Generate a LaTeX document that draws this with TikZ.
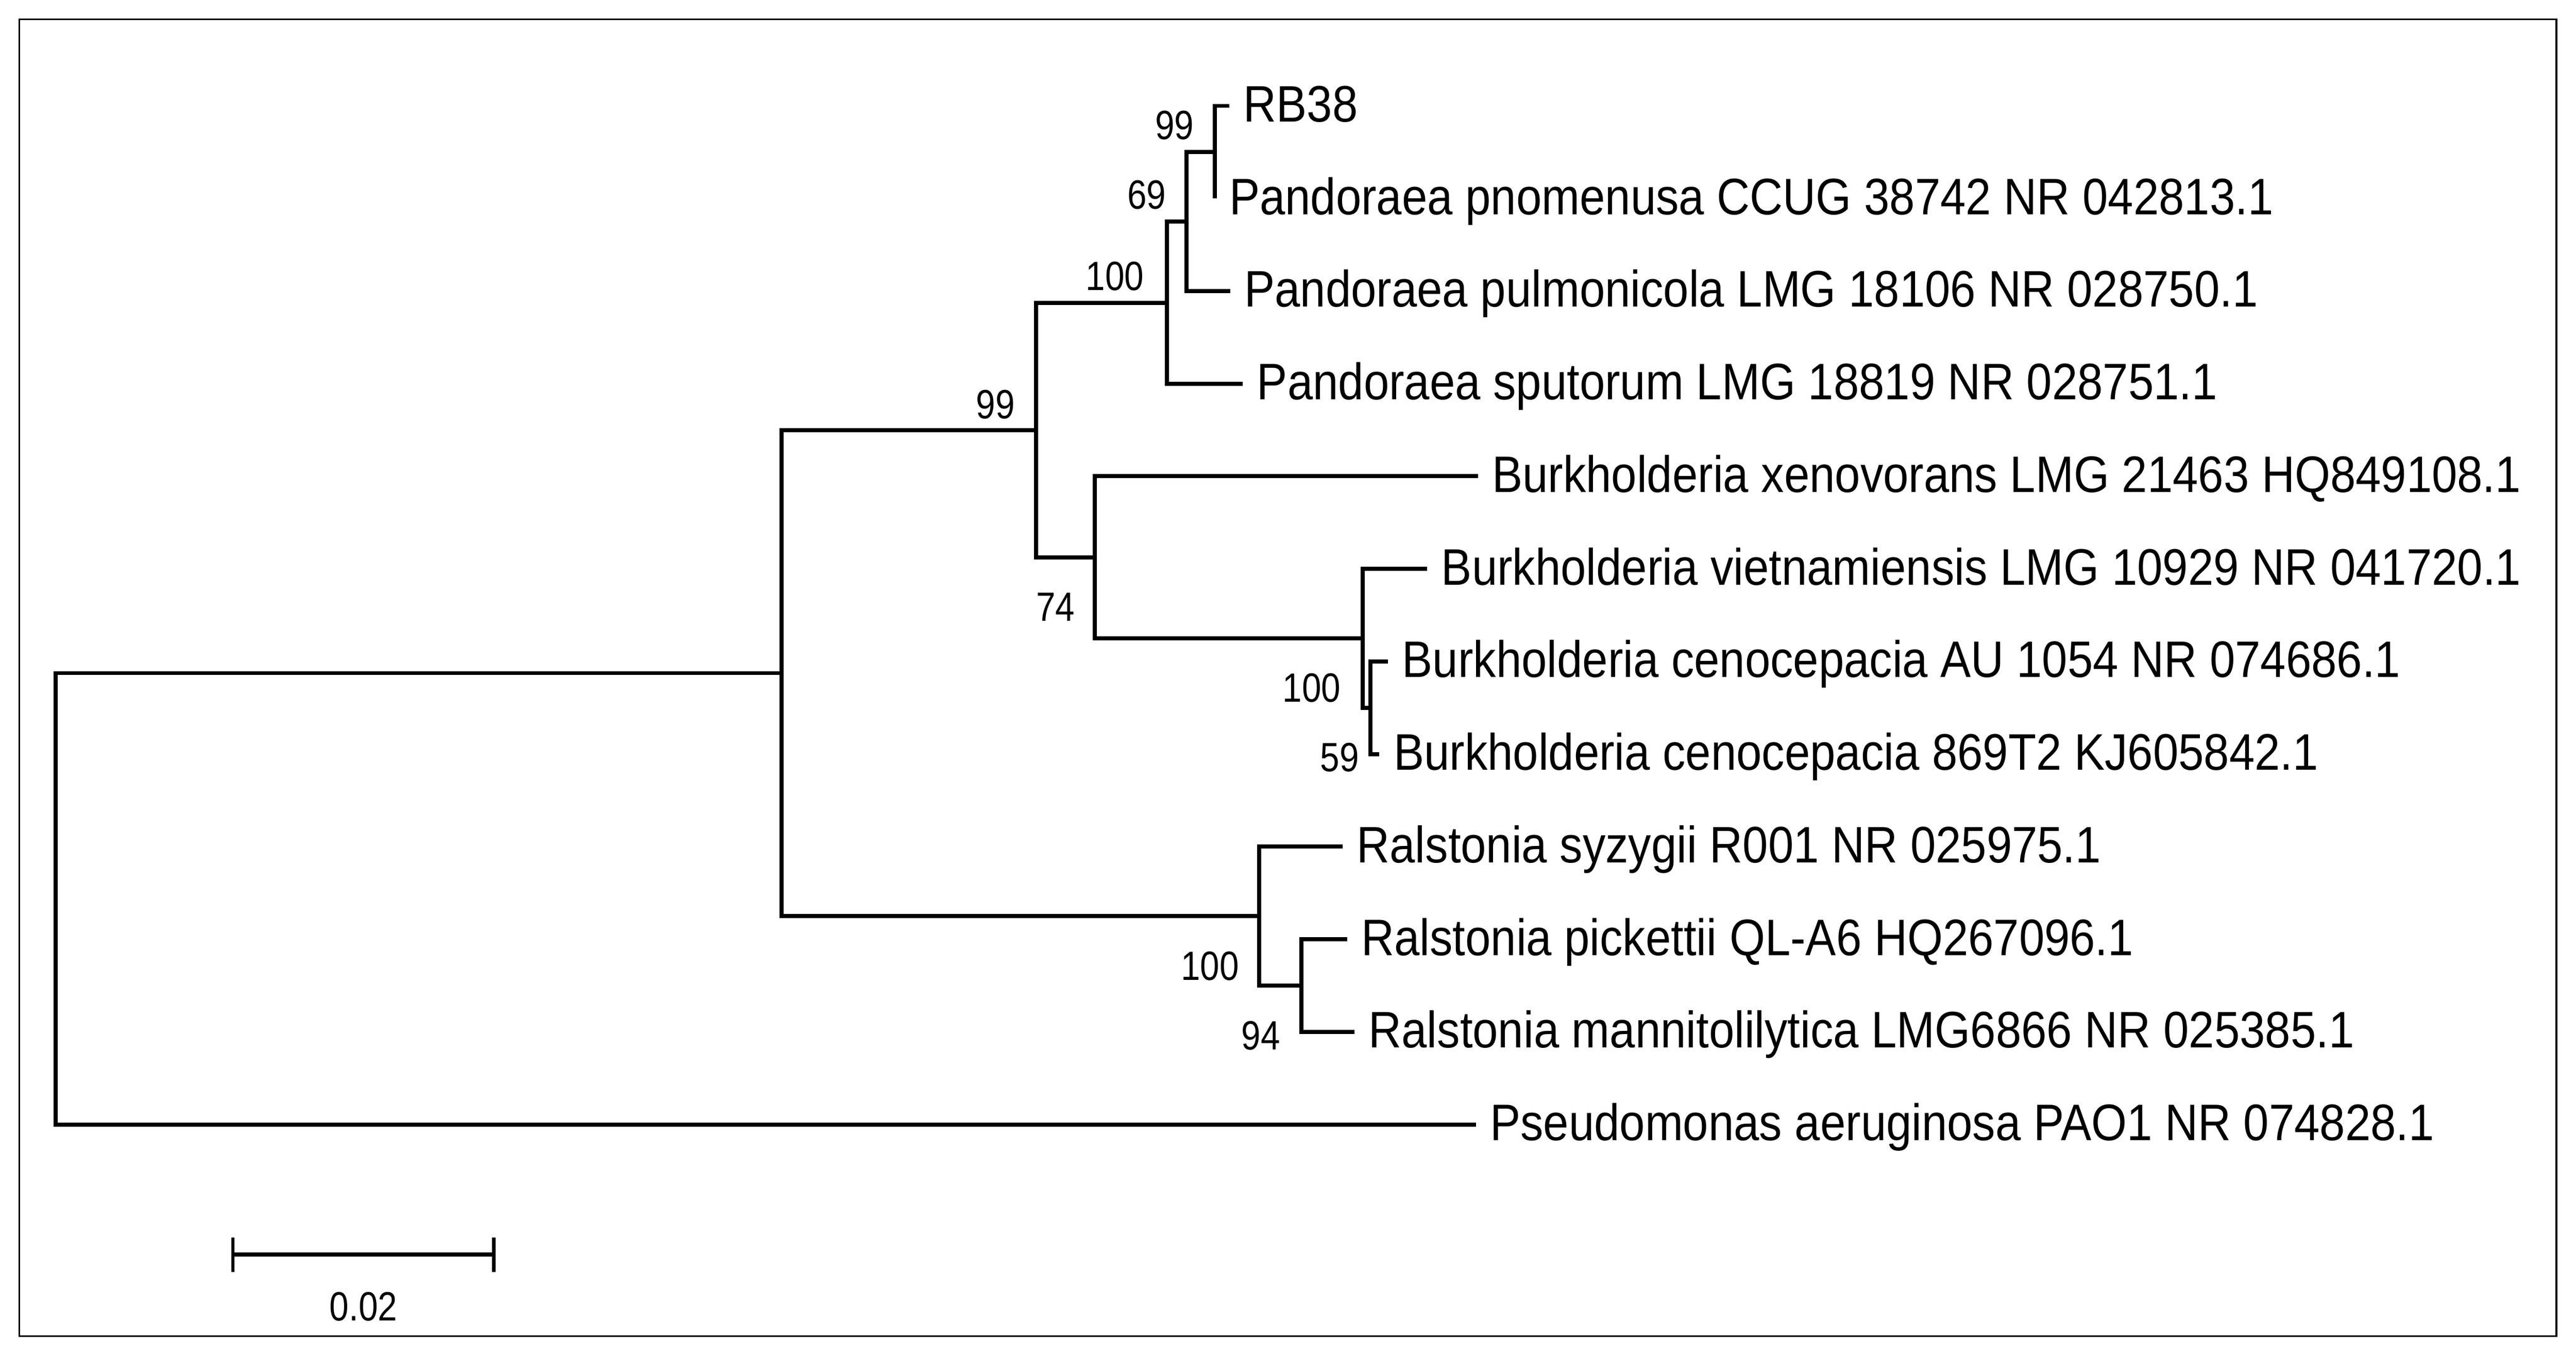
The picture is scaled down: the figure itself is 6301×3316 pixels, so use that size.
\documentclass[tikz,border=0pt]{standalone}
\usepackage{fontspec}
\setmainfont{Liberation Sans}
\newfontfamily\taxfont[FakeStretch=0.89]{Liberation Sans}
\newfontfamily\bootfont[FakeStretch=0.85]{Liberation Sans}
\usetikzlibrary{positioning}

\begin{document}
\begin{tikzpicture}[x=0.25pt,y=-0.25pt,
    branch/.style={line width=2.5pt,line join=miter},
    taxon/.style={anchor=base west,inner sep=0pt,font=\taxfont\fontsize{31.4}{36}\selectfont},
    boot/.style={inner sep=0pt,font=\bootfont\fontsize{25}{30}\selectfont}]
    \useasboundingbox (0,0) rectangle (6301,3316);
    \draw[line width=1pt] (47,47) rectangle (6253,3268);

    % tips
    \coordinate (t1)  at (3007,259);
    \coordinate (t2)  at (2972,485.5);
    \coordinate (t3)  at (3009,712);
    \coordinate (t4)  at (3040,938.5);
    \coordinate (t5)  at (3615,1165);
    \coordinate (t6)  at (3491,1391.5);
    \coordinate (t7)  at (3395,1618);
    \coordinate (t8)  at (3374,1844.5);
    \coordinate (t9)  at (3284,2071);
    \coordinate (t10) at (3295,2297.5);
    \coordinate (t11) at (3313,2524);
    \coordinate (t12) at (3610,2750.5);

    % inner nodes
    \coordinate (E) at (2972,372.25);
    \coordinate (D) at (2902,542);
    \coordinate (C) at (2854,740.5);
    \coordinate (H) at (3352,1731.25);
    \coordinate (G) at (3333,1561.4);
    \coordinate (F) at (2677.5,1363.2);
    \coordinate (B) at (2534,1051.9);
    \coordinate (J) at (3183,2410.75);
    \coordinate (I) at (3080,2240.9);
    \coordinate (A) at (1912,1646.4);
    \coordinate (R) at (136,2198.5);

    \draw[branch] (t1) -| (E) |- (t2);
    \draw[branch] (E) -| (D) |- (t3);
    \draw[branch] (D) -| (C) |- (t4);
    \draw[branch] (C) -| (B) |- (F);
    \draw[branch] (t5) -| (F) |- (G);
    \draw[branch] (t6) -| (G) |- (H);
    \draw[branch] (t7) -| (H) |- (t8);
    \draw[branch] (B) -| (A) |- (I);
    \draw[branch] (t9) -| (I) |- (J);
    \draw[branch] (t10) -| (J) |- (t11);
    \draw[branch] (A) -| (R) |- (t12);

    % taxa
    \node[taxon] (rb38)  at ([xshift=8.5pt,yshift=-9.75pt]t1)  {RB38};
    \node[taxon] (pnom)  at ([xshift=8.5pt,yshift=-9.75pt]t2)  {Pandoraea pnomenusa CCUG 38742 NR 042813.1};
    \node[taxon] (pulm)  at ([xshift=8.5pt,yshift=-9.75pt]t3)  {Pandoraea pulmonicola LMG 18106 NR 028750.1};
    \node[taxon] (sput)  at ([xshift=8.5pt,yshift=-9.75pt]t4)  {Pandoraea sputorum LMG 18819 NR 028751.1};
    \node[taxon] (xeno)  at ([xshift=8.5pt,yshift=-9.75pt]t5)  {Burkholderia xenovorans LMG 21463 HQ849108.1};
    \node[taxon] (viet)  at ([xshift=8.5pt,yshift=-9.75pt]t6)  {Burkholderia vietnamiensis LMG 10929 NR 041720.1};
    \node[taxon] (cenoA) at ([xshift=8.5pt,yshift=-9.75pt]t7)  {Burkholderia cenocepacia AU 1054 NR 074686.1};
    \node[taxon] (cenoB) at ([xshift=8.5pt,yshift=-9.75pt]t8)  {Burkholderia cenocepacia 869T2 KJ605842.1};
    \node[taxon] (syzy)  at ([xshift=8.5pt,yshift=-9.75pt]t9)  {Ralstonia syzygii R001 NR 025975.1};
    \node[taxon] (pick)  at ([xshift=8.5pt,yshift=-9.75pt]t10) {Ralstonia pickettii QL-A6 HQ267096.1};
    \node[taxon] (mann)  at ([xshift=8.5pt,yshift=-9.75pt]t11) {Ralstonia mannitolilytica LMG6866 NR 025385.1};
    \node[taxon] (paer)  at ([xshift=8.5pt,yshift=-9.75pt]t12) {Pseudomonas aeruginosa PAO1 NR 074828.1};

    % bootstrap values
    \node[boot,anchor=east] (bE) at (2921,307)  {99};
    \node[boot,anchor=east] (bD) at (2853,477)  {69};
    \node[boot,anchor=east] (bC) at (2799,676)  {100};
    \node[boot,anchor=east] (bB) at (2483,990)  {99};
    \node[boot,anchor=east] (bF) at (2630,1485) {74};
    \node[boot,anchor=east] (bG) at (3280,1683) {100};
    \node[boot,anchor=east] (bH) at (3325,1853) {59};
    \node[boot,anchor=east] (bI) at (3031,2363) {100};
    \node[boot,anchor=east] (bJ) at (3132,2533) {94};

    % scale bar
    \coordinate (sbl) at (570,3069);
    \coordinate (sbr) at (1208,3069);
    \draw[line width=2.5pt] (sbl) -- (sbr);
    \draw[line width=2pt] ([yshift=10.5pt]sbl) -- ([yshift=-10.5pt]sbl);
    \draw[line width=2pt] ([yshift=10.5pt]sbr) -- ([yshift=-10.5pt]sbr);
    \node[boot] (sblabel) at (889,3195.5) {0.02};
\end{tikzpicture}
\end{document}
